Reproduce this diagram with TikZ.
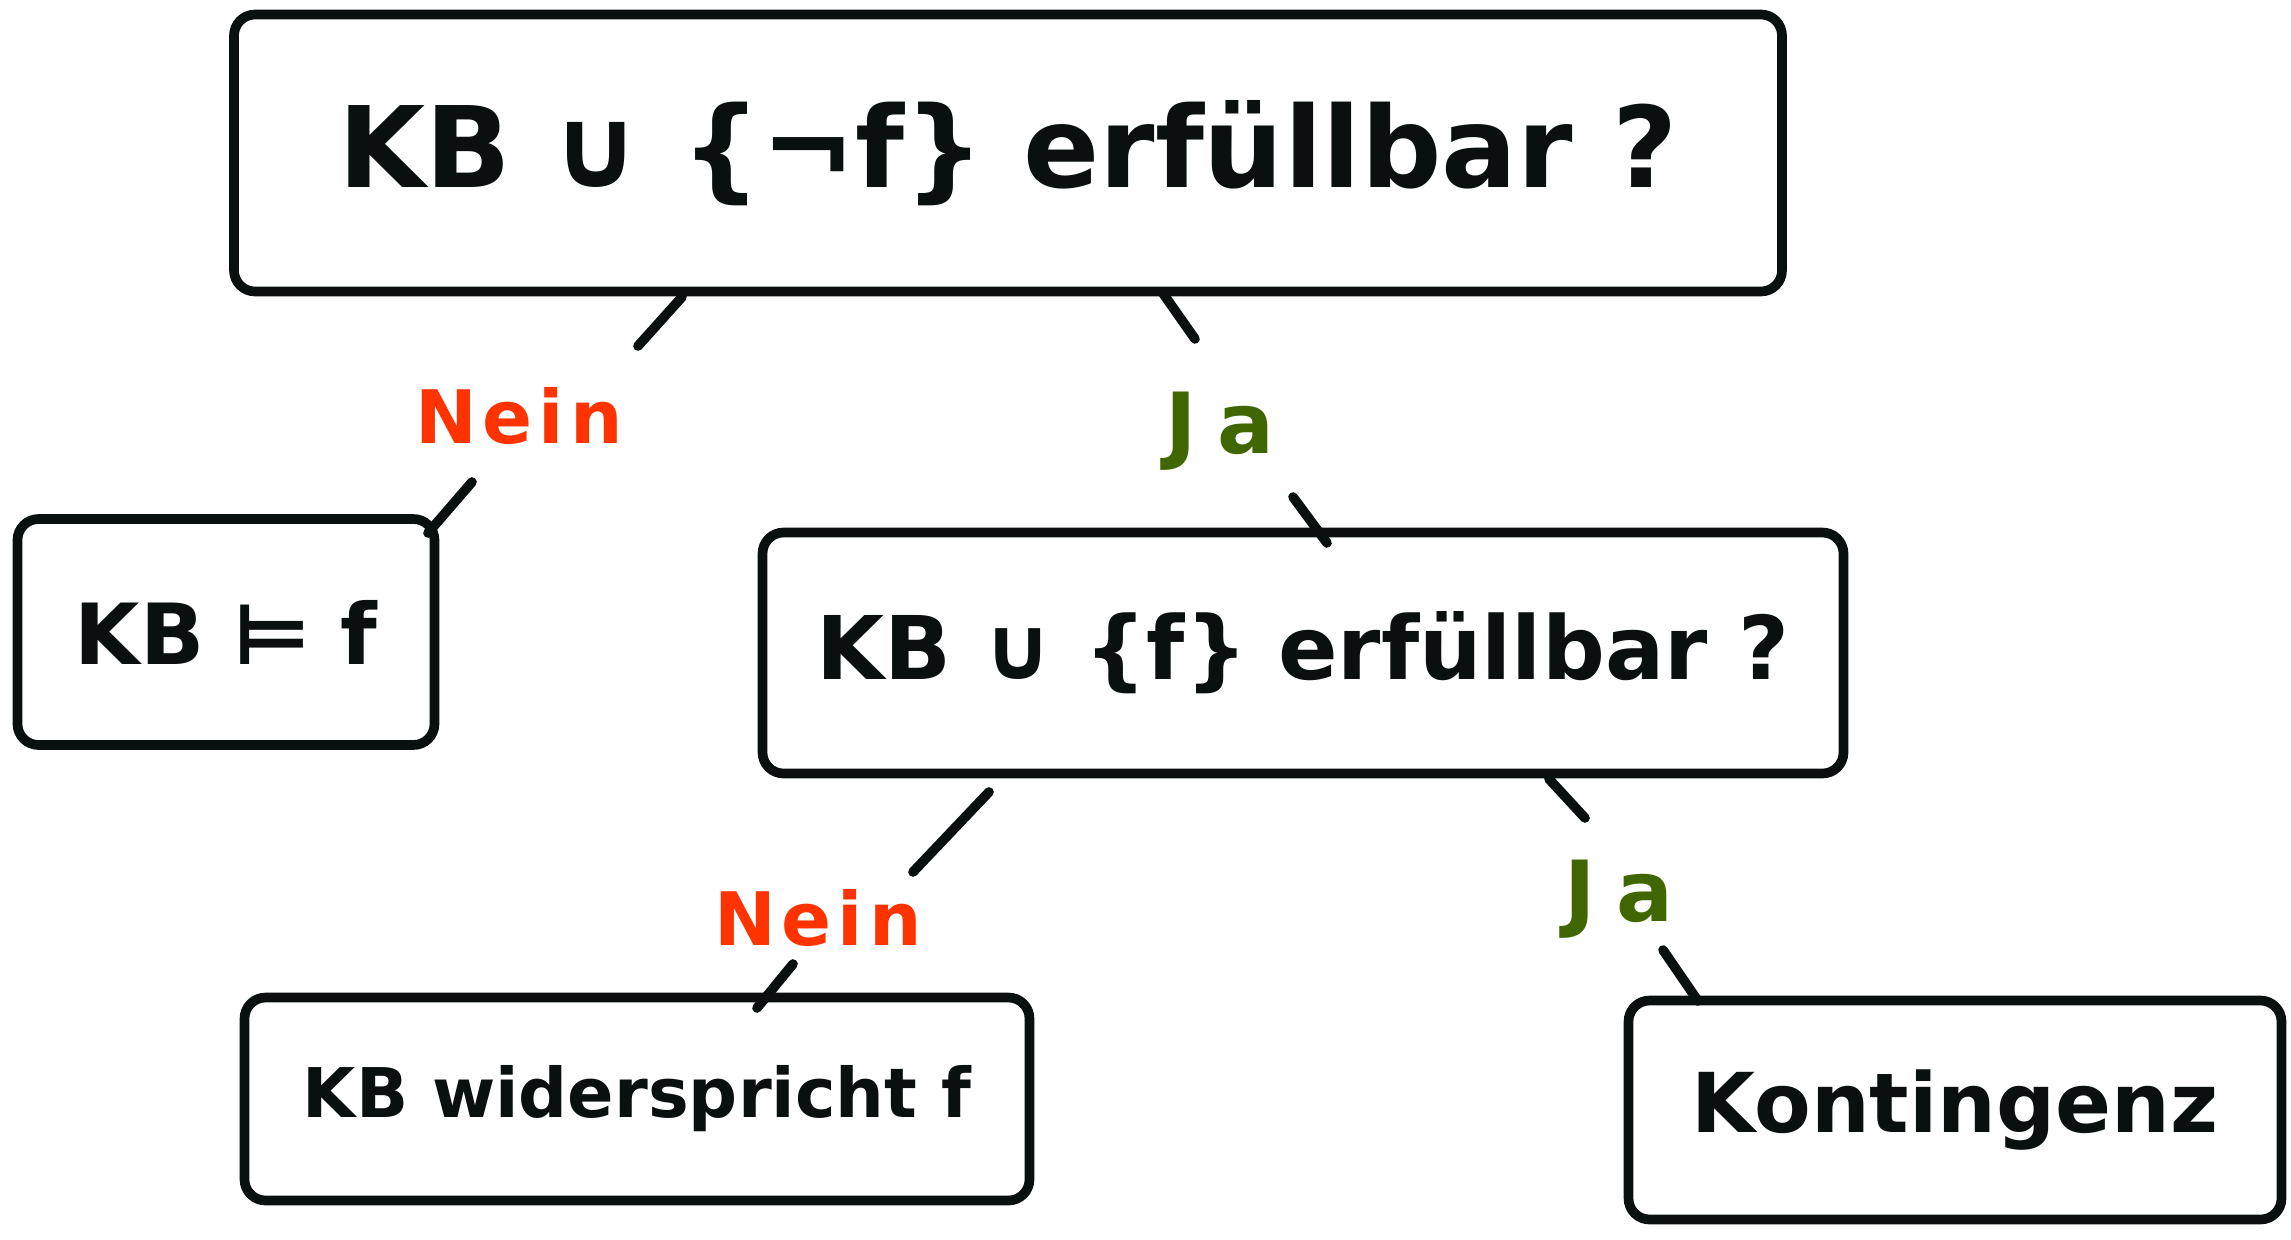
\documentclass[tikz,border=0pt]{standalone}
\usepackage{fontspec}
\setmainfont{DejaVu Sans}
\newfontfamily\symfont{DejaVu Sans}
\definecolor{ink}{HTML}{0A0F0F}
\definecolor{neincol}{HTML}{FF3300}
\definecolor{jacol}{HTML}{3F6600}
\begin{document}
\begin{tikzpicture}[x=0.02cm,y=-0.02cm,
  box/.style={draw=ink,line width=5.5pt,rounded corners=12pt,inner sep=0pt,text=ink,font=\bfseries},
  conn/.style={draw=ink,line width=5.5pt,line cap=round},
  nein/.style={text=neincol,font=\bfseries\fontsize{42}{48}\selectfont\addfontfeature{LetterSpace=8}},
  ja/.style={text=jacol,font=\bfseries\fontsize{48}{54}\selectfont\addfontfeature{LetterSpace=25}}]
\useasboundingbox (0,0) rectangle (2291,1240);
% boxes
\node[box,minimum width=1548*0.02cm,minimum height=277*0.02cm] (top) at (1008,153)
  {\fontsize{64}{70}\selectfont KB {\symfont ∪} \{{\symfont ¬}f\} erfüllbar ?};
\node[box,minimum width=417*0.02cm,minimum height=226*0.02cm] (kbf) at (226,632)
  {\fontsize{48}{54}\selectfont KB {\symfont ⊨} f};
\node[box,minimum width=1081*0.02cm,minimum height=241*0.02cm] (mid) at (1303,653)
  {\fontsize{50}{56}\selectfont KB {\symfont ∪} \{f\} erfüllbar ?};
\node[box,minimum width=785*0.02cm,minimum height=203*0.02cm] (wid) at (637,1099)
  {\fontsize{39}{45}\selectfont KB widerspricht f};
\node[box,minimum width=653*0.02cm,minimum height=219*0.02cm] (kon) at (1955,1110)
  {\fontsize{47}{53}\selectfont Kontingenz};
% labels
\node[nein] (n1) at (519,416) {Nein};
\node[ja] (j1) at (1220,431) {Ja};
\node[nein] (n2) at (818,918) {Nein};
\node[ja] (j2) at (1619,899) {Ja};
% connector coordinates
\coordinate (a1) at (682,297); \coordinate (a2) at (638,346);
\coordinate (a3) at (472,482); \coordinate (a4) at (428,533);
\coordinate (b1) at (1162,292); \coordinate (b2) at (1195,339);
\coordinate (b3) at (1293,497); \coordinate (b4) at (1327,543);
\coordinate (c1) at (989,792); \coordinate (c2) at (913,872);
\coordinate (c3) at (793,964); \coordinate (c4) at (757,1008);
\coordinate (d1) at (1549,779); \coordinate (d2) at (1585,818);
\coordinate (d3) at (1663,950); \coordinate (d4) at (1698,1001);
\draw[conn] (a1) -- (a2); \draw[conn] (a3) -- (a4);
\draw[conn] (b1) -- (b2); \draw[conn] (b3) -- (b4);
\draw[conn] (c1) -- (c2); \draw[conn] (c3) -- (c4);
\draw[conn] (d1) -- (d2); \draw[conn] (d3) -- (d4);
\end{tikzpicture}
\end{document}
